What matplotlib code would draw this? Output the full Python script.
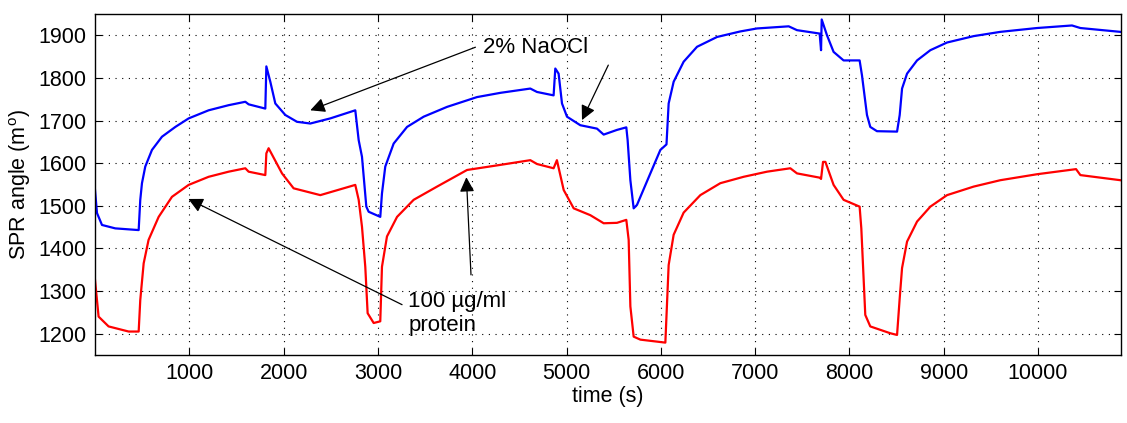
import matplotlib
matplotlib.use("Agg")
import matplotlib.pyplot as plt

plt.rcParams["font.family"] = ["Liberation Sans", "DejaVu Sans"]

# Values (time in s, SPR angle in m°)
blue_time = [0, 21, 74, 215, 463, 480, 498, 533, 604, 710, 852, 993, 1205, 1417, 1594, 1629,
             1806, 1817, 1859, 1912, 2018, 2142, 2283, 2495, 2760, 2796, 2831, 2877, 2902, 3025,
             3043, 3078, 3167, 3309, 3485, 3733, 4051, 4300, 4616, 4687, 4863, 4881, 4916, 4952,
             5005, 5146, 5323, 5394, 5535, 5634, 5648, 5677, 5712, 5747, 5889, 5995, 6060, 6083,
             6136, 6242, 6384, 6596, 6843, 7020, 7356, 7444, 7684, 7699, 7706, 7762, 7832, 7938,
             8108, 8133, 8186, 8221, 8292, 8505, 8533, 8558, 8611, 8717, 8858, 9035, 9317, 9600,
             9989, 10360, 10449, 10873]
blue_angle = [1537, 1483, 1455, 1447, 1443, 1514, 1553, 1592, 1631, 1662, 1685, 1705, 1724, 1736, 1744, 1738,
              1728, 1827, 1791, 1740, 1713, 1697, 1693, 1705, 1724, 1654, 1615, 1498, 1486, 1474,
              1529, 1592, 1646, 1685, 1709, 1732, 1755, 1765, 1775, 1767, 1759, 1822, 1810, 1740,
              1709, 1689, 1681, 1667, 1678, 1684, 1654, 1560, 1494, 1502, 1576, 1631, 1644, 1740,
              1791, 1838, 1873, 1896, 1909, 1916, 1921, 1912, 1904, 1865, 1937, 1900, 1861, 1841,
              1841, 1806, 1713, 1685, 1675, 1674, 1713, 1775, 1810, 1841, 1865, 1883, 1898, 1908,
              1917, 1923, 1917, 1908]

red_time = [0, 38, 144, 357, 463, 480, 516, 568, 675, 816, 993, 1205, 1417, 1594, 1629, 1806,
            1817, 1841, 1983, 2106, 2389, 2760, 2796, 2831, 2866, 2891, 2955, 3025, 3043, 3096,
            3203, 3379, 3627, 3945, 4300, 4616, 4687, 4863, 4898, 4970, 5076, 5252, 5394, 5535,
            5634, 5659, 5677, 5712, 5783, 6048, 6083, 6136, 6242, 6419, 6631, 6878, 7126, 7373,
            7444, 7684, 7699, 7720, 7745, 7832, 7938, 8108, 8126, 8168, 8221, 8433, 8505, 8533,
            8558, 8611, 8717, 8858, 9035, 9317, 9600, 9989, 10403, 10449, 10873]
red_angle = [1326, 1240, 1217, 1205, 1205, 1279, 1365, 1420, 1474, 1521, 1549, 1568, 1580, 1588, 1580, 1572,
             1623, 1635, 1576, 1541, 1525, 1549, 1514, 1451, 1357, 1248, 1225, 1229, 1357, 1428,
             1474, 1514, 1545, 1584, 1596, 1607, 1598, 1588, 1607, 1537, 1494, 1478, 1459, 1460,
             1467, 1420, 1264, 1193, 1186, 1179, 1361, 1432, 1484, 1525, 1553, 1568, 1580, 1588,
             1576, 1566, 1563, 1603, 1603, 1549, 1514, 1498, 1447, 1244, 1217, 1201, 1197, 1283,
             1354, 1416, 1463, 1498, 1525, 1545, 1560, 1574, 1586, 1572, 1560]

x_ticks = list(range(1000, 10001, 1000))
y_ticks = list(range(1200, 1901, 100))

# annotation arrows: (tail, head) in data coords
naocl_arrows = [((4034, 1872), (2283, 1724)), ((5443, 1830), (5164, 1701))]
protein_arrows = [((3256, 1268), (990, 1516)), ((3987, 1338), (3938, 1567))]


def main():
    fig = plt.figure(figsize=(11.27, 4.23), dpi=100)
    ax = fig.add_axes([0.0843, 0.1608, 0.9104, 0.8062])

    ax.plot(blue_time, blue_angle, color="#0000ff", lw=1.6)
    ax.plot(red_time, red_angle, color="#ff0000", lw=1.6)

    ax.set_xlim(0, 10880)
    ax.set_ylim(1150, 1950)
    ax.set_xticks(x_ticks)
    ax.set_yticks(y_ticks)
    ax.tick_params(direction="in", top=True, right=True, length=5, labelsize=15.5, pad=6)
    ax.grid(True, color="black", linestyle=(0, (1, 5)), lw=0.8)
    for sp in ax.spines.values():
        sp.set_linewidth(1.0)

    ax.set_xlabel("time (s)", fontsize=15.5, labelpad=1)
    ax.set_ylabel("SPR angle (m$^\\mathregular{o}$)", fontsize=15.5, labelpad=4)

    arrow_kw = dict(arrowstyle="-|>", mutation_scale=22, lw=0.9, color="black",
                    shrinkA=0, shrinkB=0)
    for tail, head in naocl_arrows + protein_arrows:
        ax.annotate("", xy=head, xytext=tail, arrowprops=arrow_kw)

    ax.text(4118, 1872, "2% NaOCl", fontsize=16, ha="left", va="center")
    ax.text(3323, 1248, "100 \u00b5g/ml\nprotein", fontsize=16, ha="left", va="center",
            linespacing=1.2)

    fig.savefig("out.png", dpi=100)


if __name__ == "__main__":
    main()
